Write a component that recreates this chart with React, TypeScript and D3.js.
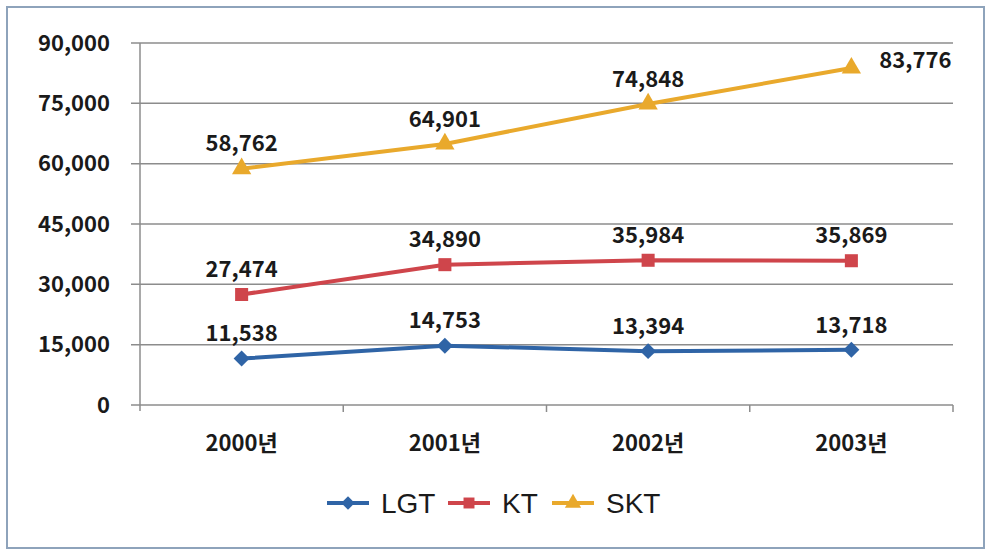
import React from 'react'
import * as d3 from 'd3'

const years = ['2000년', '2001년', '2002년', '2003년']
const lgt = [11538, 14753, 13394, 13718]
const kt = [27474, 34890, 35984, 35869]
const skt = [58762, 64901, 74848, 83776]
const yTicks = [0, 15000, 30000, 45000, 60000, 75000, 90000]
const seriesNames = ['LGT', 'KT', 'SKT']
const seriesColors = ['#2f64a6', '#cf454b', '#e9a92c']

const W = 987
const H = 550
const plot = { left: 140, right: 953, top: 43, bottom: 405 }
const labelFont = '"Noto Sans CJK KR", "Liberation Sans", sans-serif'

// marker path: diamond is a square turned 45 degrees
const marker = (si: number, size: number) => {
  if (si === 0) return { d: d3.symbol().type(d3.symbolSquare).size(size * 0.75)() as string, rot: 45 }
  if (si === 1) return { d: d3.symbol().type(d3.symbolSquare).size(size)() as string, rot: 0 }
  return { d: d3.symbol().type(d3.symbolTriangle).size(size * 0.95)() as string, rot: 0 }
}

const App = () => {
  const x = d3.scaleBand<string>().domain(years).range([plot.left, plot.right])
  const y = d3.scaleLinear().domain([0, 90000]).range([plot.bottom, plot.top])
  const fmt = d3.format(',')
  const allSeries = [lgt, kt, skt]
  const line = d3
    .line<number>()
    .x((_, i) => (x(years[i]) as number) + x.bandwidth() / 2)
    .y((d) => y(d))

  return (
    <svg width={W} height={H} style={{ position: 'absolute', left: 0, top: 0 }}>
      <rect x={0} y={0} width={W} height={H} fill="#fff" />
      <rect x={7} y={7} width={977} height={541} fill="#fff" stroke="#8ea3bb" strokeWidth={2} />

      {/* gridlines */}
      {yTicks.map((t) => (
        <line key={t} x1={plot.left - 9} x2={plot.right} y1={y(t)} y2={y(t)} stroke="#8c8c8c" strokeWidth={1.5} />
      ))}
      <line x1={plot.left} x2={plot.left} y1={plot.top} y2={plot.bottom + 6} stroke="#8c8c8c" strokeWidth={1.5} />
      {years.map((c) => (
        <line
          key={c}
          x1={(x(c) as number) + x.bandwidth()}
          x2={(x(c) as number) + x.bandwidth()}
          y1={plot.bottom}
          y2={plot.bottom + 7}
          stroke="#8c8c8c"
          strokeWidth={1.5}
        />
      ))}

      {/* y tick labels */}
      {yTicks.map((t) => (
        <text
          key={t}
          x={plot.left - 30}
          y={y(t)}
          dy="0.35em"
          textAnchor="end"
          fontFamily={labelFont}
          fontWeight="bold"
          fontSize={22}
          fill="#1a1a1a"
        >
          {fmt(t)}
        </text>
      ))}

      {/* x labels */}
      {years.map((c) => (
        <text
          key={c}
          x={(x(c) as number) + x.bandwidth() / 2}
          y={443}
          dy="0.35em"
          textAnchor="middle"
          fontFamily={labelFont}
          fontWeight="bold"
          fontSize={22}
          fill="#1a1a1a"
        >
          {c}
        </text>
      ))}

      {/* series */}
      {allSeries.map((vals, si) => (
        <g key={seriesNames[si]}>
          <path d={line(vals) as string} fill="none" stroke={seriesColors[si]} strokeWidth={4} />
          {vals.map((v, i) => {
            const cx = (x(years[i]) as number) + x.bandwidth() / 2
            const m = marker(si, 170)
            const last = si === 2 && i === 3
            return (
              <g key={i}>
                <path transform={`translate(${cx},${y(v)}) rotate(${m.rot})`} d={m.d} fill={seriesColors[si]} />
                <text
                  x={last ? cx + 64 : cx}
                  y={last ? y(v) - 8 : y(v) - 25}
                  dy="0.35em"
                  textAnchor="middle"
                  fontFamily={labelFont}
                  fontWeight="bold"
                  fontSize={22}
                  fill="#1a1a1a"
                >
                  {fmt(v)}
                </text>
              </g>
            )
          })}
        </g>
      ))}

      {/* legend */}
      {seriesNames.map((name, si) => {
        const lx = [327, 448, 552][si]
        const m = marker(si, 120)
        return (
          <g key={name} transform={`translate(${lx},503)`}>
            <line x1={0} x2={42} y1={0} y2={0} stroke={seriesColors[si]} strokeWidth={4} />
            <path transform={`translate(21,0) rotate(${m.rot})`} d={m.d} fill={seriesColors[si]} />
            <text
              x={54}
              y={0}
              dy="0.36em"
              fontFamily='"Liberation Sans", Arial, sans-serif'
              fontSize={28}
              fill="#1a1a1a"
            >
              {name}
            </text>
          </g>
        )
      })}
    </svg>
  )
}

export default App
